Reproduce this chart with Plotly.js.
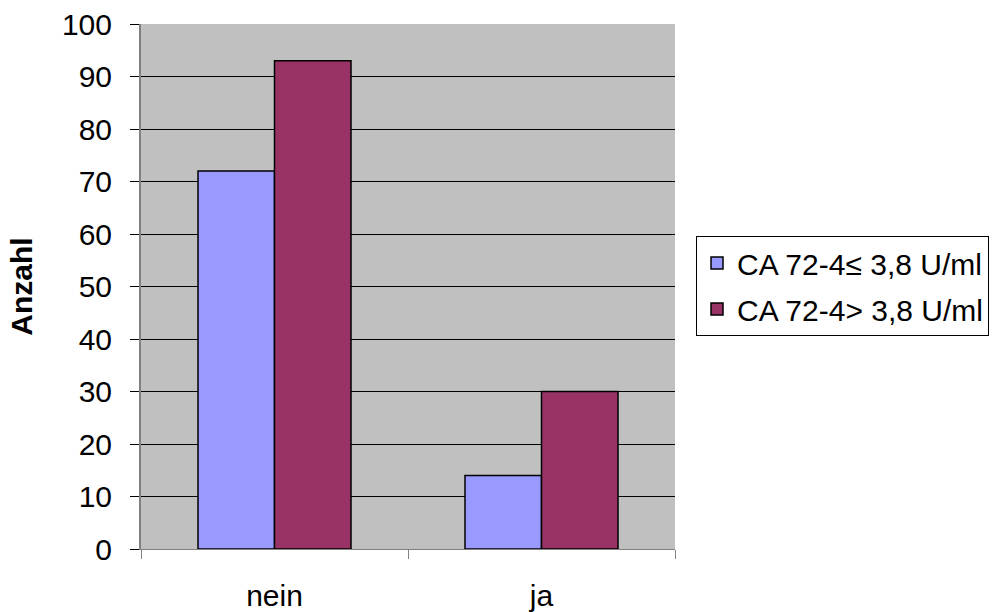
<!DOCTYPE html>
<html>
<head>
<meta charset="utf-8">
<script src="https://cdn.plot.ly/plotly-3.0.1.min.js"></script>
<style>html,body{margin:0;padding:0;background:#fff;}</style>
</head>
<body>
<div id="chart" style="width:998px;height:612px;"></div>
<script>
const categories = ["nein", "ja"];
const seriesNames = ["CA 72-4\u2264 3,8 U/ml", "CA 72-4> 3,8 U/ml"];
const lowValues = [72, 14];
const highValues = [93, 30];
const yTickVals = [0, 10, 20, 30, 40, 50, 60, 70, 80, 90, 100];

const traces = [
  {type: "bar", name: seriesNames[0], x: categories, y: lowValues, legendgroup: "g1",
   marker: {color: "#9999FF", line: {color: "#000000", width: 1.5}}},
  {type: "bar", name: seriesNames[1], x: categories, y: highValues, legendgroup: "g2",
   marker: {color: "#993366", line: {color: "#000000", width: 1.5}}}
];

const layout = {
  width: 998, height: 612,
  margin: {l: 141, r: 323, t: 24, b: 63},
  paper_bgcolor: "#ffffff",
  plot_bgcolor: "#C0C0C0",
  barmode: "group",
  bargap: 0.427,
  bargroupgap: 0,
  font: {family: "Liberation Sans, Arial, sans-serif", color: "#000000", size: 30},
  xaxis: {
    type: "category",
    tickson: "boundaries",
    ticks: "outside", ticklen: 9, tickcolor: "#808080", tickwidth: 1,
    showline: true, linecolor: "#808080", linewidth: 1,
    showgrid: false,
    automargin: false,
    tickfont: {size: 30},
    ticklabelstandoff: 20
  },
  yaxis: {
    range: [0, 100],
    tickvals: yTickVals,
    ticks: "outside", ticklen: 9, tickcolor: "#000000", tickwidth: 1,
    showline: true, linecolor: "#808080", linewidth: 2,
    showgrid: true, gridcolor: "#000000", gridwidth: 1,
    zeroline: false,
    automargin: false,
    tickfont: {size: 30},
    ticklabelstandoff: 12,
    title: {text: "<b>Anzahl</b>", font: {size: 30}, standoff: 20}
  },
  legend: {
    xref: "container", yref: "container",
    x: 0.6974, xanchor: "left",
    y: 0.5327, yanchor: "middle",
    bordercolor: "#000000", borderwidth: 1,
    bgcolor: "#ffffff",
    font: {size: 30},
    traceorder: "grouped",
    tracegroupgap: 4
  },
  showlegend: true
};

Plotly.newPlot("chart", traces, layout, {displayModeBar: false, staticPlot: true});
</script>
</body>
</html>
